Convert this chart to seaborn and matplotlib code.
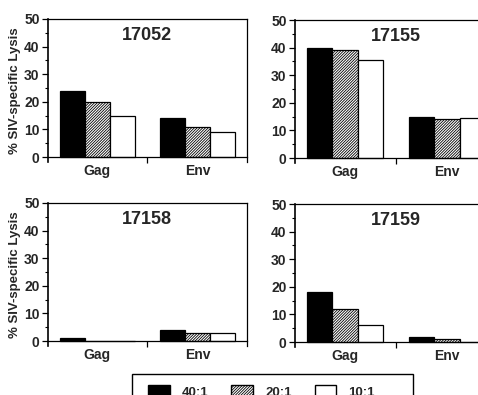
import matplotlib
matplotlib.use("Agg")
import matplotlib.pyplot as plt
import seaborn as sns
import pandas as pd
from matplotlib.patches import Patch, Rectangle

# ---- data ----
antigens = ["Gag", "Env"]
ratios = ["40:1", "20:1", "10:1"]
animals = ["17052", "17155", "17158", "17159"]
# values ordered: Gag(40:1, 20:1, 10:1), Env(40:1, 20:1, 10:1)
lysis_17052 = [24, 20, 15, 14, 11, 9]
lysis_17155 = [40, 39, 35.5, 15, 14, 14.5]
lysis_17158 = [1, 0, 0, 4, 3, 3]
lysis_17159 = [18, 12, 6, 2, 1, 0]
panel_values = [lysis_17052, lysis_17155, lysis_17158, lysis_17159]
y_ticks = [0, 10, 20, 30, 40, 50]
y_label = "% SIV-specific Lysis"

sns.set_theme(style="white")
plt.rcParams["font.family"] = ["Liberation Sans", "DejaVu Sans"]
plt.rcParams["hatch.linewidth"] = 0.6

HATCH = "/" * 12

W, H = 478, 395
fig = plt.figure(figsize=(W / 100, H / 100), dpi=100)

# axes boxes in pixels: left, top, right, bottom
boxes = [
    (48, 19, 246.7, 162),
    (295, 20, 497, 163),
    (48, 203, 246.7, 346),
    (295, 204, 497, 347),
]

palette = {"40:1": "black", "20:1": "white", "10:1": "white"}

for i, (name, vals) in enumerate(zip(animals, panel_values)):
    l, t, r, b = boxes[i]
    ax = fig.add_axes([l / W, 1 - b / H, (r - l) / W, (b - t) / H])
    df = pd.DataFrame({
        "antigen": [a for a in antigens for _ in ratios],
        "ratio": ratios * len(antigens),
        "lysis": vals,
    })
    sns.barplot(data=df, x="antigen", y="lysis", hue="ratio",
                hue_order=ratios, order=antigens, palette=palette,
                width=0.75, edgecolor="black", linewidth=0.9,
                legend=False, ax=ax, errorbar=None)
    for p in ax.containers[1]:
        p.set_hatch(HATCH)
    ax.set_xlim(-0.49, 1.49)
    ax.set_ylim(-1.8, 50)
    ax.spines["bottom"].set_position(("data", 0))
    for s in ["top", "right", "bottom"]:
        ax.spines[s].set_linewidth(0.9)
        ax.spines[s].set_color("black")
    ax.spines["left"].set_linewidth(1.2)
    ax.spines["left"].set_color("black")
    ax.set_yticks(y_ticks)
    ax.set_yticks([5, 15, 25, 35, 45], minor=True)
    ax.set_yticklabels([str(v) for v in y_ticks], fontsize=10, fontweight="bold")
    ax.set_xticks([0, 1])
    ax.set_xticklabels(antigens, fontsize=10, fontweight="bold")
    ax.set_xticks([0.5], minor=True)
    ax.tick_params(axis="y", which="major", direction="out", length=4, width=0.9,
                   left=True, color="black", pad=2)
    ax.tick_params(axis="y", which="minor", direction="out", length=2, width=0.8,
                   left=True, color="black")
    ax.tick_params(axis="x", which="major", length=0, pad=5, bottom=True)
    ax.tick_params(axis="x", which="minor", direction="out", length=4, width=0.9,
                   bottom=True, color="black")
    ax.set_xlabel("")
    if i % 2 == 0:
        ax.set_ylabel(y_label, fontsize=9.5, fontweight="bold", labelpad=2)
    else:
        ax.set_ylabel("")
    ax.text(0.5, 0.885, name, transform=ax.transAxes, ha="center", va="center",
            fontsize=13, fontweight="bold")

# legend frame (extends past the bottom edge like the reference)
lx0, ltop, lx1, lbot = 132, 374, 413, 420
fig.patches.append(Rectangle((lx0 / W, 1 - lbot / H), (lx1 - lx0) / W, (lbot - ltop) / H,
                             transform=fig.transFigure, facecolor="white",
                             edgecolor="black", linewidth=1.0, zorder=0))

handles = [
    Patch(facecolor="black", edgecolor="black", label="40:1"),
    Patch(facecolor="white", edgecolor="black", hatch=HATCH, label="20:1"),
    Patch(facecolor="white", edgecolor="black", label="10:1"),
]
leg = fig.legend(handles=handles, ncol=3, loc="upper left",
                 bbox_to_anchor=(148 / W, 1 - 385 / H),
                 frameon=False, fontsize=9.5,
                 handlelength=1.65, handleheight=1.2, handletextpad=0.9,
                 columnspacing=1.75, borderpad=0, borderaxespad=0)
for txt in leg.get_texts():
    txt.set_fontweight("bold")

fig.savefig("out.png", dpi=100)
